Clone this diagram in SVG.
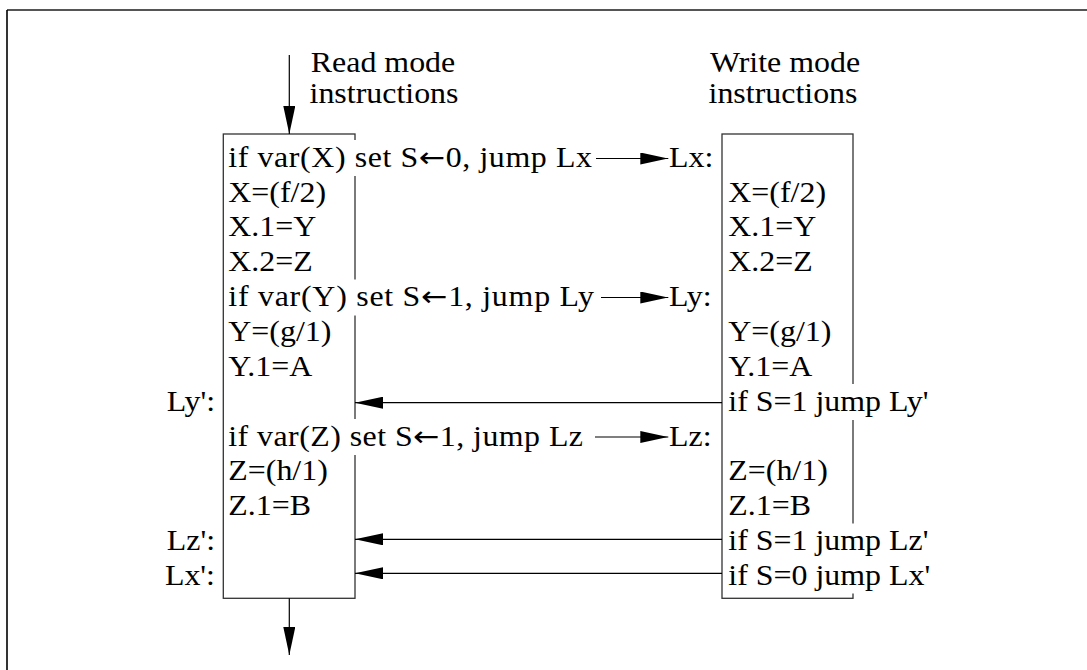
<svg xmlns="http://www.w3.org/2000/svg" width="1087" height="670" viewBox="0 0 1087 670">
<style>
text{font-family:"Liberation Serif","DejaVu Serif",serif;font-size:28.5px;fill:#000}
.e{text-anchor:end}
.m{text-anchor:middle}
.ar{font-family:"DejaVu Sans",sans-serif;font-size:28px}
.box{fill:#fff;stroke:#333;stroke-width:1.3}
.bg{fill:#fff;stroke:none}
.c{stroke:#000;stroke-width:1.2;fill:none;marker-end:url(#ah)}
</style>
<defs>
<marker id="ah" markerUnits="userSpaceOnUse" markerWidth="28" markerHeight="12" refX="28" refY="6" orient="auto">
<path d="M0,0 L28,6 L0,12 z" fill="#000"/>
</marker>
</defs>
<rect width="1087" height="670" fill="#fff"/>
<g id="frame">
<line x1="7" y1="10" x2="1087" y2="10" stroke="#555" stroke-width="2"/>
<line x1="7" y1="10" x2="7" y2="670" stroke="#000" stroke-width="1.6"/>
</g>
<g id="read-header">
<text class="m" transform="translate(383 71.5) scale(1.12 1)">Read mode</text>
<text class="m" transform="translate(384 103.3) scale(1.12 1)">instructions</text>
</g>
<g id="write-header">
<text class="m" transform="translate(785 71.5) scale(1.12 1)">Write mode</text>
<text class="m" transform="translate(783 103.3) scale(1.12 1)">instructions</text>
</g>
<g id="read-box">
<rect class="box" x="223.3" y="134" width="131.7" height="464.3"/>
<rect class="bg" x="226" y="140" width="368" height="36"/>
<rect class="bg" x="226" y="279.5" width="372" height="36"/>
<rect class="bg" x="226" y="419" width="362" height="36"/>
<text transform="translate(228.3 166.7) scale(1.12 1)" textLength="324.7" lengthAdjust="spacing">if var(X) set S<tspan class="ar">←</tspan>0, jump Lx</text>
<text transform="translate(228.3 201.6) scale(1.12 1)">X=(f/2)</text>
<text transform="translate(228.3 236.4) scale(1.12 1)">X.1=Y</text>
<text transform="translate(228.3 271.3) scale(1.12 1)">X.2=Z</text>
<text transform="translate(228.3 306.1) scale(1.12 1)" textLength="326.5" lengthAdjust="spacing">if var(Y) set S<tspan class="ar">←</tspan>1, jump Ly</text>
<text transform="translate(228.3 341) scale(1.12 1)">Y=(g/1)</text>
<text transform="translate(228.3 375.9) scale(1.12 1)">Y.1=A</text>
<text transform="translate(228.3 445.6) scale(1.12 1)" textLength="316.7" lengthAdjust="spacing">if var(Z) set S<tspan class="ar">←</tspan>1, jump Lz</text>
<text transform="translate(228.3 480.4) scale(1.12 1)">Z=(h/1)</text>
<text transform="translate(228.3 515.3) scale(1.12 1)">Z.1=B</text>
<text class="e" transform="translate(215 410.7) scale(1.12 1)">Ly':</text>
<text class="e" transform="translate(215 550.2) scale(1.12 1)">Lz':</text>
<text class="e" transform="translate(215 585) scale(1.12 1)">Lx':</text>
</g>
<g id="write-box">
<rect class="box" x="722" y="134" width="131" height="464.3"/>
<rect class="bg" x="725" y="384" width="215" height="36"/>
<rect class="bg" x="725" y="523.5" width="215" height="70"/>
<text transform="translate(728.3 201.6) scale(1.12 1)">X=(f/2)</text>
<text transform="translate(728.3 236.4) scale(1.12 1)">X.1=Y</text>
<text transform="translate(728.3 271.3) scale(1.12 1)">X.2=Z</text>
<text transform="translate(728.3 341) scale(1.12 1)">Y=(g/1)</text>
<text transform="translate(728.3 375.9) scale(1.12 1)">Y.1=A</text>
<text transform="translate(728.3 410.7) scale(1.12 1)">if S=1 jump Ly'</text>
<text transform="translate(728.3 480.4) scale(1.12 1)">Z=(h/1)</text>
<text transform="translate(728.3 515.3) scale(1.12 1)">Z.1=B</text>
<text transform="translate(728.3 550.2) scale(1.12 1)">if S=1 jump Lz'</text>
<text transform="translate(728.3 585) scale(1.12 1)">if S=0 jump Lx'</text>
<text transform="translate(669 166.7) scale(1.12 1)">Lx:</text>
<text transform="translate(669 306.1) scale(1.12 1)">Ly:</text>
<text transform="translate(669 445.6) scale(1.12 1)">Lz:</text>
</g>
<g id="connectors">
<line class="c" x1="596" y1="158.5" x2="668.3" y2="158.5"/>
<line class="c" x1="601" y1="297.5" x2="668.3" y2="297.5"/>
<line class="c" x1="595" y1="437" x2="668.3" y2="437"/>
<line class="c" x1="722" y1="402.7" x2="355" y2="402.7"/>
<line class="c" x1="722" y1="539.3" x2="355" y2="539.3"/>
<line class="c" x1="722" y1="573.3" x2="355" y2="573.3"/>
<line class="c" x1="289.3" y1="55" x2="289.3" y2="134"/>
<line class="c" x1="289.3" y1="598.3" x2="289.3" y2="655"/>
</g>
</svg>
